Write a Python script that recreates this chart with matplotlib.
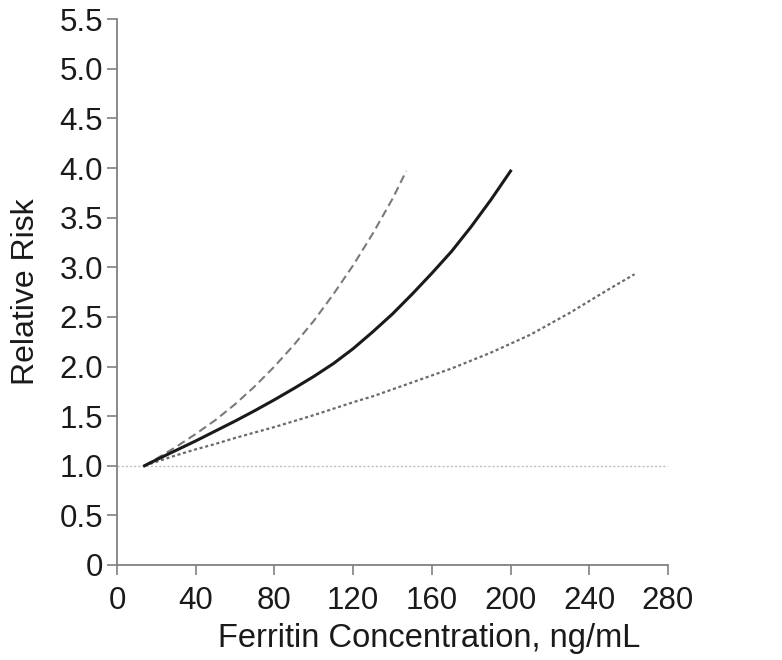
import matplotlib
matplotlib.use("Agg")
import matplotlib.pyplot as plt

plt.rcParams['font.family'] = ['Liberation Sans', 'DejaVu Sans']

# Ferritin concentration (ng/mL) and relative risk
solid_x = [14, 20, 30, 40, 50, 60, 70, 80, 90, 100, 110, 120, 130, 140, 150, 160, 170, 180, 190, 200]
solid_y = [1.00, 1.06, 1.155, 1.25, 1.35, 1.45, 1.555, 1.665, 1.78, 1.90, 2.03, 2.18, 2.35, 2.53, 2.73, 2.94,
           3.16, 3.41, 3.68, 3.97]

dashed_x = [14, 20, 30, 40, 50, 60, 70, 80, 90, 100, 110, 120, 130, 140, 147]
dashed_y = [1.00, 1.07, 1.19, 1.32, 1.46, 1.62, 1.80, 2.00, 2.22, 2.46, 2.73, 3.02, 3.34, 3.69, 3.97]

dotted_x = [14, 20, 30, 40, 50, 60, 70, 80, 90, 100, 110, 120, 130, 140, 150, 160, 170, 180, 190, 200,
            210, 220, 230, 240, 250, 263]
dotted_y = [1.00, 1.04, 1.105, 1.165, 1.22, 1.28, 1.335, 1.39, 1.45, 1.51, 1.575, 1.64, 1.70, 1.77, 1.84, 1.91,
            1.98, 2.06, 2.14, 2.23, 2.32, 2.43, 2.54, 2.66, 2.78, 2.93]

ref_x = [0, 280]
ref_y = [1.0, 1.0]

x_ticks = [0, 40, 80, 120, 160, 200, 240, 280]
y_ticks = [0, 0.5, 1.0, 1.5, 2.0, 2.5, 3.0, 3.5, 4.0, 4.5, 5.0, 5.5]
y_tick_labels = ['0', '0.5', '1.0', '1.5', '2.0', '2.5', '3.0', '3.5', '4.0', '4.5', '5.0', '5.5']

fig = plt.figure(figsize=(7.82, 6.60), dpi=100)
ax = fig.add_axes([0.1496, 0.144, 0.7046, 0.8268])

ax.plot(ref_x, ref_y, color='#bdbdbd', lw=1.0, linestyle=(0, (1.5, 1.5)), zorder=1)
ax.plot(dotted_x, dotted_y, color='#6a6a6a', lw=1.6, linestyle=(0, (1.4, 1.2)), zorder=2)
ax.plot(dashed_x, dashed_y, color='#7a7a7a', lw=1.5, linestyle=(0, (4.0, 2.2)), zorder=2)
ax.plot(solid_x, solid_y, color='#1a1a1a', lw=2.2, zorder=3)

ax.set_xlim(0, 280)
ax.set_ylim(0, 5.5)
ax.set_xticks(x_ticks)
ax.set_xticklabels([str(v) for v in x_ticks])
ax.set_yticks(y_ticks)
ax.set_yticklabels(y_tick_labels)

for s in ['top', 'right']:
    ax.spines[s].set_visible(False)
for s in ['left', 'bottom']:
    ax.spines[s].set_color('#808080')
    ax.spines[s].set_linewidth(1.3)

ax.tick_params(axis='both', direction='out', length=7, width=1.2, color='#808080',
               labelsize=22.5, labelcolor='#1a1a1a')
ax.tick_params(axis='x', pad=8)
ax.tick_params(axis='y', pad=3)

ax.set_xlabel('Ferritin Concentration, ng/mL', fontsize=23.5, color='#1a1a1a')
ax.xaxis.set_label_coords(0.566, -0.107)
ax.set_ylabel('Relative Risk', fontsize=23, color='#1a1a1a', labelpad=13)

fig.savefig('out.png', dpi=100, facecolor='white')
